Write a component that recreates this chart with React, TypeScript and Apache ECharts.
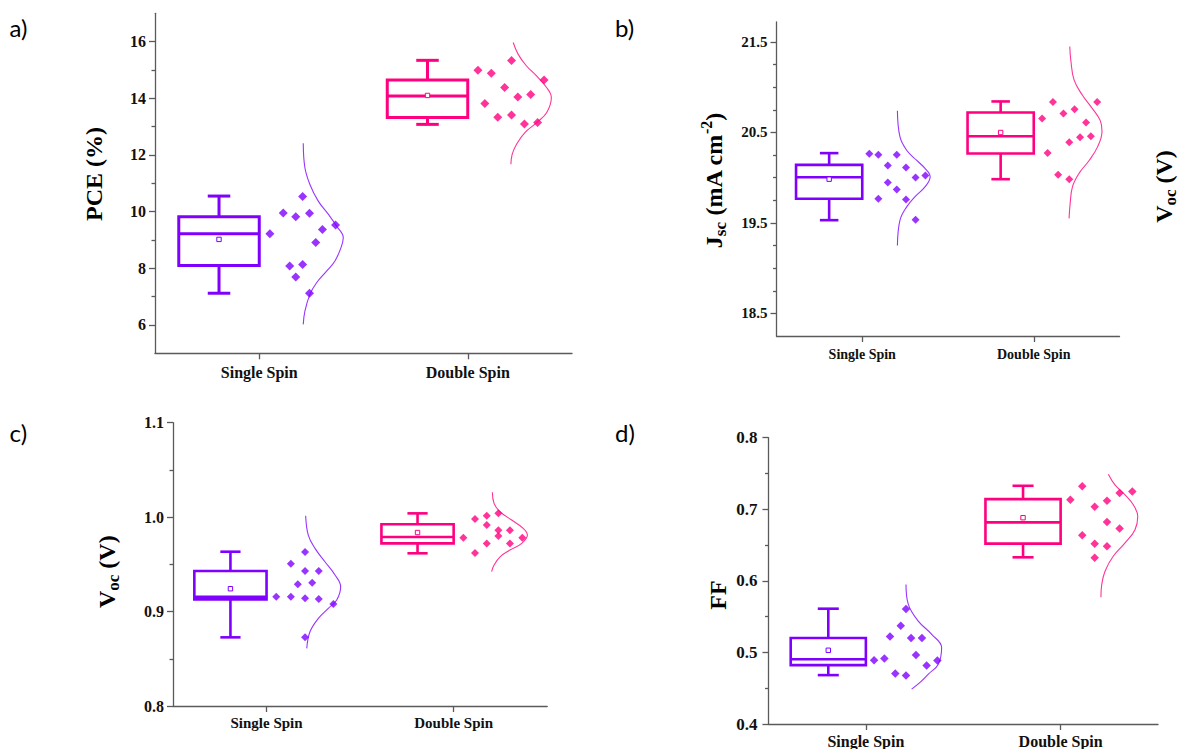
import React, { useEffect, useRef } from 'react';
import * as echarts from 'echarts';

const categories = ['Single Spin', 'Double Spin'];

// ---------- a) PCE (%) ----------
const pceSingle = [9.22, 9.95, 9.82, 9.94, 10.53, 9.37, 9.53, 8.91, 8.08, 8.13, 7.69, 7.12];
const pceDouble = [14.99, 14.88, 15.33, 14.38, 13.82, 14.05, 14.13, 14.65, 13.33, 13.41, 13.09, 13.15];
// [min, Q1, median, Q3, max, mean]
const pceBoxSingle = [7.12, 8.1, 9.22, 9.82, 10.55, 9.02];
const pceBoxDouble = [13.08, 13.32, 14.08, 14.65, 15.34, 14.1];
const pceJitterSingle = [0.051, 0.115, 0.175, 0.241, 0.208, 0.303, 0.366, 0.271, 0.146, 0.208, 0.175, 0.241];
const pceJitterDouble = [0.049, 0.113, 0.21, 0.177, 0.082, 0.24, 0.302, 0.366, 0.144, 0.21, 0.272, 0.335];
// [value, horizontal offset]
const pceCurveSingle = [[12.41, 0.211], [11.55, 0.219], [10.96, 0.243], [10.37, 0.283], [9.91, 0.331], [9.49, 0.371], [9.08, 0.403], [8.73, 0.392], [8.26, 0.363], [7.9, 0.323], [7.49, 0.275], [7.08, 0.243], [6.49, 0.219], [6.02, 0.211]];
const pceCurveDouble = [[15.97, 0.218], [15.55, 0.242], [15.14, 0.282], [14.79, 0.33], [14.38, 0.378], [14.03, 0.401], [13.49, 0.378], [13.14, 0.33], [12.79, 0.274], [12.38, 0.234], [12.02, 0.213], [11.67, 0.207]];
const pceTicks = [6, 8, 10, 12, 14, 16];
const pceMinorTicks = [7, 9, 11, 13, 15];

// ---------- b) Jsc ----------
const jscSingle = [20.263, 20.252, 20.252, 20.135, 20.113, 20.002, 20.024, 19.947, 19.87, 19.766, 19.759, 19.534];
const jscDouble = [20.654, 20.837, 20.709, 20.757, 20.61, 20.837, 20.271, 20.392, 20.447, 20.458, 20.031, 19.983];
const jscBoxSingle = [19.53, 19.766, 20.005, 20.141, 20.271, 19.983];
const jscBoxDouble = [19.983, 20.267, 20.458, 20.72, 20.842, 20.499];
const jscJitterSingle = [0.041, 0.094, 0.201, 0.149, 0.255, 0.311, 0.368, 0.149, 0.201, 0.094, 0.255, 0.311];
const jscJitterDouble = [0.049, 0.112, 0.173, 0.238, 0.305, 0.37, 0.081, 0.207, 0.27, 0.333, 0.142, 0.207];
const jscCurveSingle = [[20.74, 0.205], [20.45, 0.22], [20.3, 0.26], [20.19, 0.318], [20.1, 0.367], [20.01, 0.396], [19.9, 0.367], [19.79, 0.308], [19.68, 0.26], [19.53, 0.22], [19.25, 0.205]];
const jscCurveDouble = [[21.45, 0.21], [21.3, 0.216], [21.08, 0.235], [20.91, 0.284], [20.76, 0.343], [20.63, 0.388], [20.51, 0.398], [20.34, 0.372], [20.19, 0.323], [20.05, 0.265], [19.9, 0.226], [19.71, 0.212], [19.55, 0.206]];
const jscTicks = [18.5, 19.5, 20.5, 21.5];
const jscMinorTicks = [18.75, 19, 19.25, 19.75, 20, 20.25, 20.75, 21, 21.25];

// ---------- c) Voc ----------
const vocSingle = [0.9157, 0.9157, 0.914, 0.9132, 0.9079, 0.9506, 0.9429, 0.9429, 0.9288, 0.9305, 0.963, 0.8727];
const vocDouble = [0.9782, 0.962, 0.998, 1.0015, 0.9916, 0.9722, 1.004, 0.986, 0.98, 0.986, 0.9722, 0.9782];
const vocBoxSingle = [0.8727, 0.9129, 0.9157, 0.9429, 0.9634, 0.9242];
const vocBoxDouble = [0.9617, 0.9722, 0.979, 0.9924, 1.004, 0.9837];
const vocJitterSingle = [0.052, 0.13, 0.206, 0.279, 0.357, 0.13, 0.206, 0.279, 0.167, 0.244, 0.206, 0.206];
const vocJitterDouble = [0.052, 0.114, 0.114, 0.177, 0.177, 0.177, 0.239, 0.239, 0.239, 0.301, 0.301, 0.367];
const vocCurveSingle = [[1.0015, 0.209], [0.981, 0.223], [0.9669, 0.259], [0.9528, 0.312], [0.9387, 0.366], [0.9263, 0.396], [0.9122, 0.375], [0.9034, 0.33], [0.8928, 0.277], [0.8786, 0.232], [0.861, 0.215]];
const vocCurveDouble = [[1.0263, 0.207], [1.0146, 0.216], [1.0057, 0.248], [0.9969, 0.31], [0.9881, 0.372], [0.981, 0.394], [0.9722, 0.364], [0.9651, 0.301], [0.958, 0.248], [0.9493, 0.216], [0.9423, 0.203]];
const vocTicks = [0.8, 0.9, 1.0, 1.1];
const vocMinorTicks = [0.85, 0.95, 1.05];

// ---------- d) FF ----------
const ffSingle = [0.4891, 0.4915, 0.5221, 0.5374, 0.5202, 0.5202, 0.5605, 0.4965, 0.4706, 0.4678, 0.4817, 0.4887];
const ffDouble = [0.7133, 0.7323, 0.6636, 0.7035, 0.652, 0.6321, 0.7119, 0.6822, 0.6483, 0.7226, 0.6733, 0.7248];
const ffBoxSingle = [0.4683, 0.4822, 0.4905, 0.5202, 0.5611, 0.503];
const ffBoxDouble = [0.6329, 0.652, 0.6817, 0.7142, 0.7328, 0.6882];
const ffJitterSingle = [0.042, 0.095, 0.124, 0.179, 0.232, 0.288, 0.206, 0.257, 0.151, 0.206, 0.312, 0.367];
const ffJitterDouble = [0.05, 0.111, 0.111, 0.175, 0.175, 0.175, 0.238, 0.238, 0.238, 0.303, 0.303, 0.368];
const ffCurveSingle = [[0.5949, 0.206], [0.5671, 0.218], [0.5438, 0.269], [0.5253, 0.338], [0.5068, 0.389], [0.4836, 0.372], [0.4697, 0.321], [0.4581, 0.278], [0.4487, 0.235]];
const ffCurveDouble = [[0.749, 0.245], [0.7342, 0.279], [0.7202, 0.331], [0.7063, 0.373], [0.69, 0.396], [0.6715, 0.382], [0.653, 0.331], [0.6343, 0.27], [0.6135, 0.228], [0.5949, 0.211], [0.5772, 0.207]];
const ffTicks = [0.4, 0.5, 0.6, 0.7, 0.8];
const ffMinorTicks = [0.45, 0.55, 0.65, 0.75];

// ---------- styling ----------
const SERIF = "'Liberation Serif', 'Times New Roman', serif";
const PURPLE = '#8000FF';
const PINK = '#FF0080';
const AXIS = '#5a5a5a';
const BOX_OFFSET = -0.193;
const BOX_HALF = 0.193;
const CAP_HALF = 0.054;

const panels = [
  {
    grid: { left: 155, top: 13.3, width: 417, height: 340 },
    yMin: 5, yMax: 17, majors: pceTicks, minors: pceMinorTicks, decimals: 0,
    tickFont: 16, tickMargin: 9, catFont: 16, catMargin: 11, boxLW: 3, symbolSize: 9,
    single: pceSingle, double: pceDouble, boxSingle: pceBoxSingle, boxDouble: pceBoxDouble,
    jitterSingle: pceJitterSingle, jitterDouble: pceJitterDouble,
    curveSingle: pceCurveSingle, curveDouble: pceCurveDouble,
  },
  {
    grid: { left: 776.5, top: 22, width: 343, height: 314 },
    yMin: 18.25, yMax: 21.72, majors: jscTicks, minors: jscMinorTicks, decimals: 1,
    tickFont: 15, tickMargin: 9, catFont: 14, catMargin: 11, boxLW: 2.6, symbolSize: 8,
    single: jscSingle, double: jscDouble, boxSingle: jscBoxSingle, boxDouble: jscBoxDouble,
    jitterSingle: jscJitterSingle, jitterDouble: jscJitterDouble,
    curveSingle: jscCurveSingle, curveDouble: jscCurveDouble,
  },
  {
    grid: { left: 173, top: 422.7, width: 374.2, height: 283.3 },
    yMin: 0.8, yMax: 1.1, majors: vocTicks, minors: vocMinorTicks, decimals: 1,
    tickFont: 16, tickMargin: 9, catFont: 15, catMargin: 9, boxLW: 2.6, symbolSize: 8,
    single: vocSingle, double: vocDouble, boxSingle: vocBoxSingle, boxDouble: vocBoxDouble,
    jitterSingle: vocJitterSingle, jitterDouble: vocJitterDouble,
    curveSingle: vocCurveSingle, curveDouble: vocCurveDouble,
  },
  {
    grid: { left: 768.5, top: 437.7, width: 389.5, height: 287.3 },
    yMin: 0.4, yMax: 0.8, majors: ffTicks, minors: ffMinorTicks, decimals: 1,
    tickFont: 17, tickMargin: 11, catFont: 16, catMargin: 9, boxLW: 2.6, symbolSize: 8.5,
    single: ffSingle, double: ffDouble, boxSingle: ffBoxSingle, boxDouble: ffBoxDouble,
    jitterSingle: ffJitterSingle, jitterDouble: ffJitterDouble,
    curveSingle: ffCurveSingle, curveDouble: ffCurveDouble,
  },
];

function boxSeries(idx: number, center: number, stats: number[], color: string, lw: number) {
  return {
    type: 'custom',
    xAxisIndex: idx,
    yAxisIndex: idx * 2,
    z: 3,
    silent: true,
    data: [[center, ...stats]],
    renderItem: (_params: any, api: any) => {
      const x = api.value(0);
      const pt = (k: number) => api.coord([x, api.value(k)]);
      const pMin = pt(1), pQ1 = pt(2), pMed = pt(3), pQ3 = pt(4), pMax = pt(5), pMean = pt(6);
      const cx = pMed[0];
      const hw = api.coord([x + BOX_HALF, api.value(3)])[0] - cx;
      const cw = api.coord([x + CAP_HALF, api.value(3)])[0] - cx;
      const st = { stroke: color, lineWidth: lw, fill: 'none' };
      const line = (x1: number, y1: number, x2: number, y2: number) => ({
        type: 'line', shape: { x1, y1, x2, y2 }, style: st,
      });
      return {
        type: 'group',
        children: [
          { type: 'rect', shape: { x: cx - hw, y: pQ3[1], width: hw * 2, height: pQ1[1] - pQ3[1] }, style: st },
          line(cx - hw, pMed[1], cx + hw, pMed[1]),
          line(cx, pQ3[1], cx, pMax[1]),
          line(cx, pQ1[1], cx, pMin[1]),
          line(cx - cw, pMax[1], cx + cw, pMax[1]),
          line(cx - cw, pMin[1], cx + cw, pMin[1]),
          {
            type: 'rect',
            shape: { x: cx - 2.2, y: pMean[1] - 2.2, width: 4.4, height: 4.4 },
            style: { stroke: color, lineWidth: 1, fill: '#fff' },
          },
        ],
      };
    },
  };
}

function scatterSeries(idx: number, base: number, values: number[], jitter: number[], color: string, size: number) {
  return {
    type: 'scatter',
    xAxisIndex: idx,
    yAxisIndex: idx * 2,
    symbol: 'diamond',
    symbolSize: size,
    itemStyle: { color },
    z: 4,
    silent: true,
    data: values.map((v, k) => [base + jitter[k], v]),
  };
}

function curveSeries(idx: number, base: number, pts: number[][], color: string) {
  return {
    type: 'line',
    xAxisIndex: idx,
    yAxisIndex: idx * 2,
    smooth: 0.4,
    symbol: 'none',
    silent: true,
    z: 2,
    lineStyle: { color, width: 1.1, opacity: 0.8 },
    data: pts.map(([v, o]) => [base + o, v]),
  };
}

const rich = {
  m: { fontFamily: SERIF, fontWeight: 'bold', fontSize: 24, lineHeight: 30, fill: '#000' },
  s: { fontFamily: SERIF, fontWeight: 'bold', fontSize: 17, lineHeight: 17, verticalAlign: 'bottom', fill: '#000' },
  p: { fontFamily: SERIF, fontWeight: 'bold', fontSize: 16, lineHeight: 16, verticalAlign: 'top', fill: '#000' },
};

function yTitle(text: string, x: number, y: number) {
  return {
    type: 'text',
    x,
    y,
    rotation: Math.PI / 2,
    silent: true,
    style: {
      text,
      rich,
      textAlign: 'center',
      textVerticalAlign: 'middle',
      align: 'center',
      verticalAlign: 'middle',
      fill: '#000',
    },
  };
}

function panelLetter(text: string, x: number, y: number) {
  return {
    type: 'text',
    x,
    y,
    silent: true,
    style: {
      text,
      fontFamily: 'Lato, "Open Sans", sans-serif',
      fontSize: 24,
      fill: '#000',
      textAlign: 'left',
      textVerticalAlign: 'middle',
      align: 'left',
      verticalAlign: 'middle',
    },
  };
}

function buildOption() {
  const lineStyle = { color: AXIS, width: 1.3 };
  const series: any[] = [];
  panels.forEach((p, i) => {
    series.push(curveSeries(i, 0.5, p.curveSingle, PURPLE));
    series.push(curveSeries(i, 1.5, p.curveDouble, PINK));
    series.push(boxSeries(i, 0.5 + BOX_OFFSET, p.boxSingle, PURPLE, p.boxLW));
    series.push(boxSeries(i, 1.5 + BOX_OFFSET, p.boxDouble, PINK, p.boxLW));
    series.push(scatterSeries(i, 0.5, p.single, p.jitterSingle, PURPLE, p.symbolSize));
    series.push(scatterSeries(i, 1.5, p.double, p.jitterDouble, PINK, p.symbolSize));
  });

  return {
    animation: false,
    backgroundColor: '#ffffff',
    textStyle: { fontFamily: SERIF },
    grid: panels.map((p) => ({ ...p.grid, containLabel: false })),
    xAxis: panels.map((p, i) => ({
      type: 'value',
      gridIndex: i,
      min: 0,
      max: 2,
      position: 'bottom',
      axisLine: { show: true, onZero: false, lineStyle },
      axisTick: { show: true, inside: false, length: 6, customValues: [0.5, 1.5], lineStyle },
      axisLabel: {
        show: true,
        customValues: [0.5, 1.5],
        formatter: (v: number) => categories[v < 1 ? 0 : 1],
        margin: p.catMargin,
        fontFamily: SERIF,
        fontWeight: 'bold',
        fontSize: p.catFont,
        color: '#111',
      },
      splitLine: { show: false },
    })),
    yAxis: panels.flatMap((p, i) => [
      {
        type: 'value',
        gridIndex: i,
        min: p.yMin,
        max: p.yMax,
        position: 'left',
        axisLine: { show: true, onZero: false, lineStyle },
        axisTick: { show: true, inside: false, length: 6, customValues: p.majors, lineStyle },
        axisLabel: {
          show: true,
          customValues: p.majors,
          formatter: (v: number) => v.toFixed(p.decimals),
          margin: p.tickMargin,
          fontFamily: SERIF,
          fontWeight: 'bold',
          fontSize: p.tickFont,
          color: '#111',
        },
        splitLine: { show: false },
      },
      {
        type: 'value',
        gridIndex: i,
        min: p.yMin,
        max: p.yMax,
        position: 'left',
        offset: 0,
        axisLine: { show: false },
        axisTick: { show: true, inside: false, length: 3.5, customValues: p.minors, lineStyle },
        axisLabel: { show: false },
        splitLine: { show: false },
      },
    ]),
    graphic: [
      panelLetter('a)', 9.6, 27.5),
      panelLetter('b)', 615, 27.5),
      panelLetter('c)', 9.6, 432.5),
      panelLetter('d)', 615, 432.5),
      yTitle('{m|PCE (%)}', 94, 174),
      yTitle('{m|J}{s|sc}{m| (mA cm}{p|-2}{m|)}', 713.5, 180.5),
      yTitle('{m|V}{s|oc}{m| (V)}', 107, 571.7),
      yTitle('{m|FF}', 717.8, 595),
      yTitle('{m|V}{s|oc}{m| (V)}', 1163.5, 186.5),
    ],
    series,
  };
}

export default function App() {
  const ref = useRef<HTMLDivElement>(null);
  useEffect(() => {
    if (!ref.current) return;
    const chart = echarts.init(ref.current, null, { renderer: 'svg' });
    chart.setOption(buildOption() as any);
    return () => chart.dispose();
  }, []);
  return (
    <div
      ref={ref}
      style={{ position: 'fixed', left: 0, top: 0, width: 1181, height: 749, background: '#fff' }}
    />
  );
}
